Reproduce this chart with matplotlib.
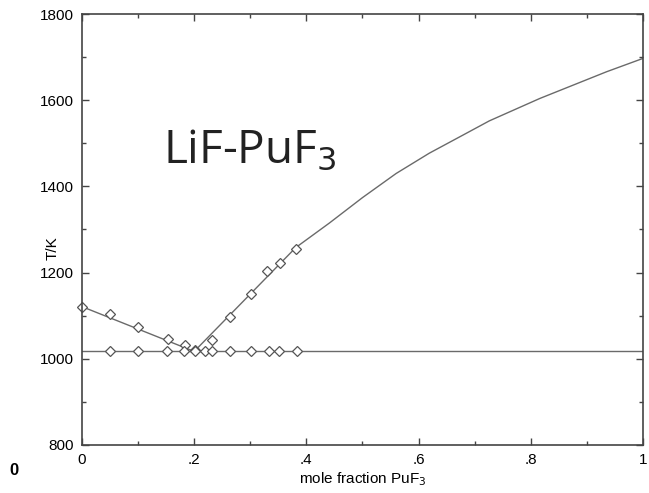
import matplotlib.pyplot as plt
from matplotlib.ticker import MultipleLocator

# liquidus measurements (diamonds)
liq_x = [0.0, 0.05, 0.10, 0.153, 0.184, 0.202, 0.232, 0.263, 0.301, 0.33, 0.353, 0.381]
liq_T = [1121, 1103, 1074, 1045, 1032, 1020, 1044, 1098, 1150, 1204, 1222, 1255]

# eutectic arrest measurements
eut_x = [0.05, 0.10, 0.151, 0.181, 0.202, 0.219, 0.232, 0.263, 0.301, 0.333, 0.352, 0.383]
eut_T = [1017] * len(eut_x)

# calculated liquidus lines
left_x = [0.0, 0.2]
left_T = [1121, 1017]
right_x = [0.2, 0.381, 0.441, 0.50, 0.56, 0.619, 0.679, 0.726, 0.816, 0.935, 1.0]
right_T = [1017, 1258, 1315, 1374, 1430, 1477, 1519, 1552, 1604, 1666, 1697]
T_eut = 1017

xtick_vals = [0, 0.2, 0.4, 0.6, 0.8, 1.0]
xtick_labels = ['0', '.2', '.4', '.6', '.8', '1']

plt.rcParams['font.family'] = ['Liberation Sans', 'DejaVu Sans']

fig = plt.figure(figsize=(6.49, 4.93), dpi=100)
ax = fig.add_axes([0.1263, 0.0974, 0.8645, 0.8742])

line_col = '#6a6a6a'
ax.axhline(T_eut, color=line_col, lw=1.0)
ax.plot(left_x, left_T, color=line_col, lw=1.0)
ax.plot(right_x, right_T, color=line_col, lw=1.0)
ax.plot(liq_x, liq_T, 'D', ms=5.5, mfc='white', mec='#555555', mew=0.9, clip_on=False)
ax.plot(eut_x, eut_T, 'D', ms=5.5, mfc='white', mec='#555555', mew=0.9, clip_on=False)

ax.set_xlim(0, 1)
ax.set_ylim(800, 1800)
ax.set_xticks(xtick_vals)
ax.set_xticklabels(xtick_labels)
ax.xaxis.set_minor_locator(MultipleLocator(0.1))
ax.yaxis.set_major_locator(MultipleLocator(200))
ax.yaxis.set_minor_locator(MultipleLocator(100))
ax.tick_params(which='both', direction='in', top=True, right=True,
               color='#444444', width=1.0, labelsize=11, pad=6)
ax.tick_params(which='major', length=5)
ax.tick_params(which='minor', length=3)
for s in ax.spines.values():
    s.set_color('#444444')
    s.set_linewidth(1.2)

ax.set_xlabel('mole fraction PuF$_3$', fontsize=11, labelpad=2)
ax.set_ylabel('T/K', fontsize=11)
ax.yaxis.set_label_coords(-0.039, 0.457)

ax.text(0.145, 1455, 'LiF-PuF$_3$', fontsize=33, family=['Open Sans', 'DejaVu Sans'],
        color='#222222', ha='left', va='baseline')

# edge of neighbouring panel
fig.text(0.015, 0.045, '0', fontsize=12, fontweight='bold', ha='left', va='center')

fig.savefig('out.png', dpi=100)
